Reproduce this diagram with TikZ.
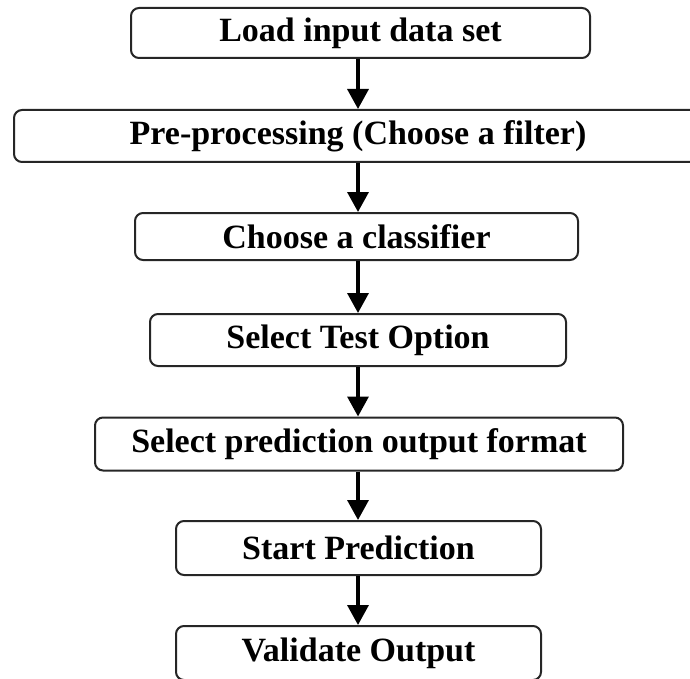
\documentclass[tikz,border=0pt]{standalone}
\usepackage{fontspec}
\setmainfont{Liberation Serif}
\usetikzlibrary{arrows.meta}
\begin{document}
\begin{tikzpicture}[x=1pt,y=-1pt,
  stepbox/.style={draw=black!85, line width=2pt, rounded corners=8pt, fill=white,
    inner sep=0pt, font=\fontsize{34}{40}\selectfont\bfseries, text=black},
  flow/.style={line width=3.4pt, -{Triangle[length=20pt,width=21pt]}}]
\useasboundingbox (0,0) rectangle (690,679);
\clip (0,0) rectangle (690,679);
\coordinate (axis) at (358,0);
\node[stepbox, minimum width=459pt, minimum height=50pt] (n1) at (360.5,33) {Load input data set};
\node[stepbox, minimum width=688pt, minimum height=52pt] (n2) at (358,136) {Pre-processing (Choose a filter)};
\node[stepbox, minimum width=443pt, minimum height=47pt] (n3) at (356.5,236.5) {Choose a classifier};
\node[stepbox, minimum width=416pt, minimum height=52pt] (n4) at (358,340) {Select Test Option};
\node[stepbox, minimum width=528pt, minimum height=53pt] (n5) at (359,444) {Select prediction output format};
\node[stepbox, minimum width=365pt, minimum height=54pt] (n6) at (358.5,548) {Start Prediction};
\node[stepbox, minimum width=365pt, minimum height=54pt] (n7) at (358.5,653) {Validate Output};
\draw[flow] (n1.south -| axis) -- (n2.north -| axis);
\draw[flow] (n2.south -| axis) -- (n3.north -| axis);
\draw[flow] (n3.south -| axis) -- (n4.north -| axis);
\draw[flow] (n4.south -| axis) -- (n5.north -| axis);
\draw[flow] (n5.south -| axis) -- (n6.north -| axis);
\draw[flow] (n6.south -| axis) -- (n7.north -| axis);
\end{tikzpicture}
\end{document}
